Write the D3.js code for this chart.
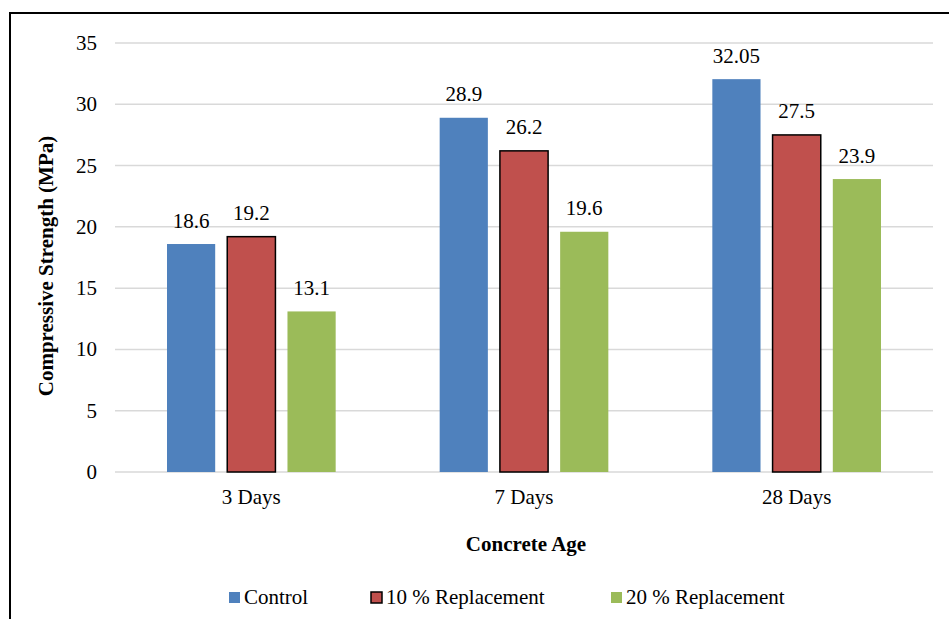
<!DOCTYPE html>
<html><head><meta charset="utf-8">
<script src="https://cdn.jsdelivr.net/npm/d3@7"></script>
</head>
<body style="margin:0;background:#fff"><svg id="c" width="949" height="619" style="display:block"></svg>
<script>
const categories = ["3 Days", "7 Days", "28 Days"];
const seriesNames = ["Control", "10 % Replacement", "20 % Replacement"];
const control = [18.6, 28.9, 32.05];
const repl10 = [19.2, 26.2, 27.5];
const repl20 = [13.1, 19.6, 23.9];
const yTicks = [0, 5, 10, 15, 20, 25, 30, 35];
const colors = ["#4F81BD", "#C0504D", "#9BBB59"];
const seriesValues = [control, repl10, repl20];

(function(){
const fontName = "Liberation Serif";
const FF = `"${fontName}"`;
const FS = 21;
const svg = d3.select("#c");
svg.append("rect").attr("x",10).attr("y",13).attr("width",1000).attr("height",700)
  .attr("fill","#fff").attr("stroke","#000").attr("stroke-width",2);

const pLeft = 115, pRight = 933, pTop = 43, pBottom = 472;
const y = d3.scaleLinear().domain([0,35]).range([pBottom, pTop]);
const x0 = d3.scaleBand().domain(categories).range([pLeft, pRight]).paddingInner(0).paddingOuter(0);
const x1 = d3.scaleBand().domain(seriesNames).range([52, x0.bandwidth()-52]).paddingInner(0.2).paddingOuter(0);

svg.append("g").selectAll("line").data(yTicks).join("line")
  .attr("x1",pLeft).attr("x2",pRight)
  .attr("y1",d=>y(d)).attr("y2",d=>y(d))
  .attr("stroke","#D9D9D9").attr("stroke-width",1.5);

svg.append("g").selectAll("text").data(yTicks).join("text")
  .attr("x",97).attr("y",d=>y(d)+7)
  .attr("text-anchor","end").attr("font-size",FS).style("font-family",FF).attr("fill","#000")
  .text(d=>d);

const data = [];
seriesNames.forEach((s,si)=>categories.forEach((c,ci)=>data.push({s,si,c,v:seriesValues[si][ci]})));
svg.append("g").selectAll("rect").data(data).join("rect")
  .attr("x",d=>x0(d.c)+x1(d.s))
  .attr("y",d=>y(d.v))
  .attr("width",x1.bandwidth())
  .attr("height",d=>y(0)-y(d.v))
  .attr("fill",d=>colors[d.si])
  .attr("stroke",d=>d.si===1?"#000":"none")
  .attr("stroke-width",1.5);

svg.append("g").selectAll("text").data(data).join("text")
  .attr("x",d=>x0(d.c)+x1(d.s)+x1.bandwidth()/2)
  .attr("y",d=>y(d.v)-16.5)
  .attr("text-anchor","middle").attr("font-size",FS).style("font-family",FF).attr("fill","#000")
  .text(d=>d.v);

svg.append("g").selectAll("text").data(categories).join("text")
  .attr("x",d=>x0(d)+x0.bandwidth()/2).attr("y",504)
  .attr("text-anchor","middle").attr("font-size",FS).style("font-family",FF).attr("fill","#000")
  .text(d=>d);

svg.append("text").attr("x",526).attr("y",551).attr("text-anchor","middle")
  .attr("font-size",FS).style("font-family",FF).attr("font-weight","bold").text("Concrete Age");
svg.append("text").attr("transform","translate(53,266) rotate(-90)")
  .attr("text-anchor","middle").attr("font-size",FS).style("font-family",FF).attr("font-weight","bold")
  .text("Compressive Strength (MPa)");

const legX = [229, 371, 611];
const lg = svg.append("g").selectAll("g").data(seriesNames).join("g")
  .attr("transform",(d,i)=>`translate(${legX[i]},592)`);
lg.append("rect").attr("width",11).attr("height",11)
  .attr("fill",(d,i)=>colors[i]).attr("stroke",(d,i)=>i===1?"#000":"none").attr("stroke-width",1.5);
lg.append("text").attr("x",15).attr("y",11.5).attr("font-size",FS).style("font-family",FF).text(d=>d);
})();
</script></body></html>
